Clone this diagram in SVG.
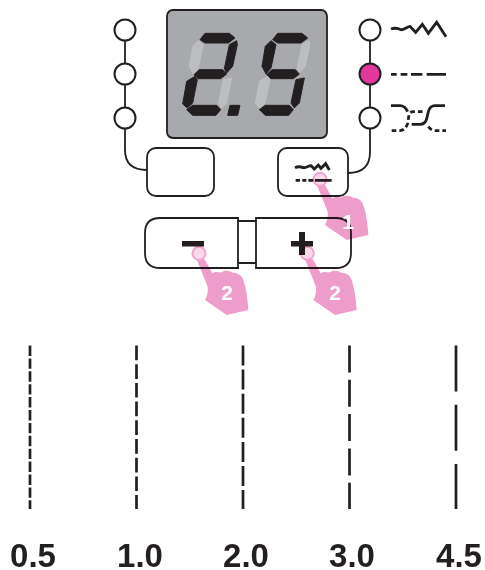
<svg xmlns="http://www.w3.org/2000/svg" width="485" height="570" viewBox="0 0 485 570">
<style>
.l{fill:none;stroke:#231f20;stroke-width:1.8}
.c{fill:#fff;stroke:#231f20;stroke-width:2}
.b{fill:#fff;stroke:#231f20;stroke-width:1.8}
.on{fill:#231f20;stroke:#231f20;stroke-width:3;stroke-linejoin:round}
.off{fill:#bcbec0;stroke:#bcbec0;stroke-width:3;stroke-linejoin:round}
.h{fill:#ee9dca}
.m{mix-blend-mode:multiply}
.r{fill:#f9d9ea;stroke:#f2a3ce;stroke-width:2}
.n{font-family:"Liberation Sans",Arial,sans-serif;font-weight:bold;fill:#fff;font-size:21px;text-anchor:middle}
.v{font-family:"Liberation Sans",Arial,sans-serif;font-weight:bold;fill:#231f20;font-size:33px;text-anchor:middle}
.s{fill:none;stroke:#231f20;stroke-width:8.500}
.st{fill:none;stroke:#231f20;stroke-width:2.700}
</style>
<defs>
<path id="hand" class="h" d="M32 50C42 46 52 50 60 60L82 100C92 93 102 98 110 97C120 90 133 92 143 98C158 98 170 104 175 120C185 150 188 180 190 210L125 225L60 180C66 170 70 155 68 140Z"/>
</defs>
<g id="connectors">
<path class="l" d="M125 30V150Q125 170 147 170"/>
<path class="l" d="M370 30V152Q370 173 348 173"/>
</g>
<g id="display">
<rect x="167" y="10" width="160" height="128" rx="6" fill="#a7a9ac" stroke="#231f20" stroke-width="1.800"/>
<g transform="translate(180 28) scale(.33333)">
<polygon class="on" points="60,35 75,16 148,16 165,30 145,45 75,45"/>
<polygon class="off" points="55,38 70,50 55,120 40,138 28,115 38,55"/>
<polygon class="on" points="170,38 172,50 158,115 140,135 133,122 148,50"/>
<polygon class="on" points="42,140 58,125 128,125 140,138 122,152 55,152"/>
<polygon class="on" points="45,145 52,155 38,225 22,240 8,228 20,160"/>
<polygon class="off" points="130,155 155,150 140,225 125,240 115,225"/>
<polygon class="on" points="20,245 38,232 110,232 122,245 108,262 38,262"/>
<polygon class="on" points="150,232 180,232 173,262 143,262"/>
<g transform="translate(218 0)">
<polygon class="on" points="60,35 75,16 148,16 165,30 145,45 75,45"/>
<polygon class="on" points="55,38 70,50 55,120 40,138 28,115 38,55"/>
<polygon class="off" points="170,38 172,50 158,115 140,135 133,122 148,50"/>
<polygon class="on" points="42,140 58,125 128,125 140,138 122,152 55,152"/>
<polygon class="off" points="45,145 52,155 38,225 22,240 8,228 20,160"/>
<polygon class="on" points="130,155 155,150 140,225 125,240 115,225"/>
<polygon class="on" points="20,245 38,232 110,232 122,245 108,262 38,262"/>
</g>
</g>
</g>
<g id="led-left-1"><circle class="c" cx="125" cy="30" r="10.500"/></g>
<g id="led-left-2"><circle class="c" cx="125" cy="74" r="10.500"/></g>
<g id="led-left-3"><circle class="c" cx="125" cy="118" r="10.500"/></g>
<g id="led-right-1"><circle class="c" cx="370" cy="30" r="10.500"/></g>
<g id="led-right-2"><circle cx="370" cy="74" r="10.500" fill="#e0399b" stroke="#231f20" stroke-width="2"/></g>
<g id="led-right-3"><circle class="c" cx="370" cy="118" r="10.500"/></g>
<g id="stitch-icons" transform="translate(385 15) scale(.33333)">
<path class="s" d="M18 42C30 38 40 40 48 44C58 46 68 34 75 34L92 52L112 28L130 55L155 22L183 65"/>
<path class="s" d="M18 178H35M47 178H67M78 178H112M125 178H183"/>
<path class="s" d="M18 272H45Q60 272 68 290M180 272H150Q135 272 130 290L125 312Q120 328 105 328H80"/>
<path class="s" stroke-dasharray="14 9" d="M20 347H45Q62 345 68 325L72 300Q75 290 85 290H122M130 335Q140 347 150 347H183"/>
</g>
<g id="button-left"><rect class="b" x="147" y="148" width="67" height="48" rx="9"/></g>
<g id="button-right">
<rect class="b" x="278" y="148" width="70" height="48" rx="9"/>
<g transform="translate(285 155) scale(.33333)">
<path class="s" d="M30 38C40 33 50 36 55 38C62 40 70 32 78 32L88 42L100 30L108 40L122 26L133 45"/>
<path class="s" d="M32 76H45M52 76H64M70 76H85M90 76H140"/>
</g>
</g>
<g id="button-minus">
<path class="b" d="M238 218H160Q145 218 145 233V253Q145 268 160 268H238Z"/>
</g>
<g id="button-link">
<path class="l" d="M238 221H256M238 263H256"/>
</g>
<g id="button-plus">
<path class="b" d="M256 218H336Q351 218 351 233V253Q351 268 336 268H256Z"/>
</g>
<rect x="182" y="241" width="22" height="5.500" fill="#231f20"/>
<path fill="#231f20" d="M299 232H305V241H313V246.500H305V255H299V246.500H291V241H299Z"/>
<g id="hand-1" class="m">
<use href="#hand" transform="translate(305 165) scale(.33333)"/>
<circle class="r" cx="320" cy="179.300" r="6.500"/>
</g>
<text class="n" x="348" y="229">1</text>
<g id="hand-2a" class="m">
<use href="#hand" transform="translate(185 240) scale(.33333)"/>
<circle class="r" cx="199" cy="253.300" r="6.500"/>
</g>
<text class="n" x="227" y="300">2</text>
<g id="hand-2b" class="m">
<use href="#hand" transform="translate(293.300 240) scale(.33333)"/>
<circle class="r" cx="307.300" cy="253.300" r="6.500"/>
</g>
<text class="n" x="335" y="300">2</text>
<g id="stitches">
<path class="st" stroke-dasharray="10.400 2.500" d="M30 345.500V509"/>
<path class="st" stroke-dasharray="14.700 4" d="M136.500 345.500V509"/>
<path class="st" stroke-dasharray="20 4.100" d="M243 345.500V509"/>
<path class="st" stroke-dasharray="27 7.300" d="M349.500 345.500V509"/>
<path class="st" stroke-dasharray="46 13.300" d="M456 345.500V509"/>
</g>
<g id="labels">
<text class="v" x="33" y="567">0.5</text>
<text class="v" x="140" y="567">1.0</text>
<text class="v" x="246" y="567">2.0</text>
<text class="v" x="352" y="567">3.0</text>
<text class="v" x="459" y="567">4.5</text>
</g>
</svg>
